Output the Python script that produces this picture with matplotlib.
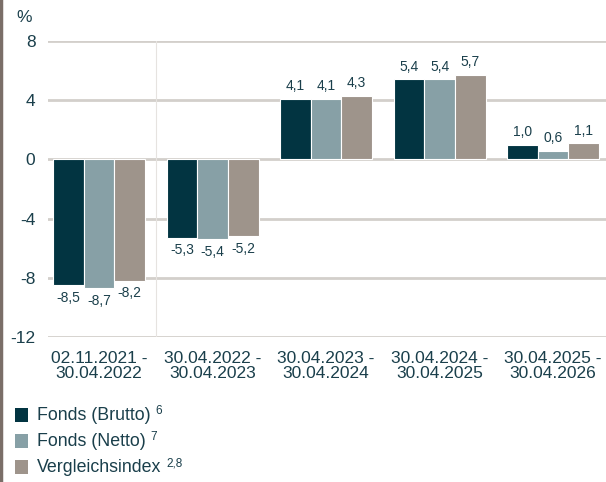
import numpy as np
import matplotlib
matplotlib.use("Agg")
import matplotlib.pyplot as plt
from matplotlib.patches import Rectangle
from matplotlib.lines import Line2D

plt.rcParams['font.family'] = ['Liberation Sans', 'DejaVu Sans']

# data
periods = ["02.11.2021 -\n30.04.2022", "30.04.2022 -\n30.04.2023", "30.04.2023 -\n30.04.2024",
           "30.04.2024 -\n30.04.2025", "30.04.2025 -\n30.04.2026"]
brutto = [-8.5, -5.3, 4.1, 5.4, 1.0]
netto = [-8.7, -5.4, 4.1, 5.4, 0.6]
index = [-8.2, -5.2, 4.3, 5.7, 1.1]
series_names = ["Fonds (Brutto)", "Fonds (Netto)", "Vergleichsindex"]
series_notes = ["6", "7", "2,8"]
yticks = [8, 4, 0, -4, -8, -12]

colors = ["#023441", "#87a0a6", "#9e948b"]
txt = "#1a3f4b"
W, H = 606, 482

fig = plt.figure(figsize=(W / 100, H / 100), dpi=100)
ax = fig.add_axes([48 / W, (H - 337) / H, 560 / W, 296 / H])

x = np.arange(len(periods))
bw = 0.27
for k, vals in enumerate([brutto, netto, index]):
    pos = x + (k - 1) * bw
    ax.bar(pos, vals, width=bw, color=colors[k], edgecolor="white", linewidth=0.8, zorder=3)
    for p, v in zip(pos, vals):
        lab = f"{v:.1f}".replace(".", ",")
        if v >= 0:
            ax.annotate(lab, (p, v), xytext=(0, 4), textcoords="offset points",
                        ha="center", va="bottom", fontsize=10, color=txt)
        else:
            ax.annotate(lab, (p, v), xytext=(0, -4), textcoords="offset points",
                        ha="center", va="top", fontsize=10, color=txt)

ax.set_xlim(-0.45, -0.45 + 560 / 113.5)
ax.set_ylim(-12, 8)
ax.set_yticks(yticks)
ax.set_yticklabels([str(t) for t in yticks], fontsize=12.5, color=txt)
for t in yticks:
    ax.axhline(t, color="#d3cfcb", linewidth=2, zorder=1)
ax.axvline(0.5, color="#e6e3e0", linewidth=0.8, zorder=1)
ax.set_xticks(x)
ax.set_xticklabels(periods, fontsize=12.5, color=txt, linespacing=1.0)
ax.tick_params(length=0, pad=10)
ax.tick_params(axis="y", pad=9)
for s in ax.spines.values():
    s.set_visible(False)

fig.text(16 / W, 1 - 17 / H, "%", fontsize=12.5, color=txt, va="center")

# left border line
fig.add_artist(Line2D([1 / W, 1 / W], [0, 1], color="#7a6e68", linewidth=2.5))

# legend drawn by hand
for k, (name, note) in enumerate(zip(series_names, series_notes)):
    yc = 415 + k * 26
    fig.add_artist(Rectangle((15 / W, 1 - (yc + 7) / H), 13 / W, 14 / H,
                             facecolor=colors[k], edgecolor="none", transform=fig.transFigure))
    t = fig.text(37 / W, 1 - yc / H, name, fontsize=12.8, color=txt, va="center")
    fig.canvas.draw()
    bb = t.get_window_extent()
    fig.text((bb.x1 + 5) / W, 1 - (yc - 4) / H, note, fontsize=8.5, color=txt, va="center")

fig.savefig("out.png", dpi=100)
